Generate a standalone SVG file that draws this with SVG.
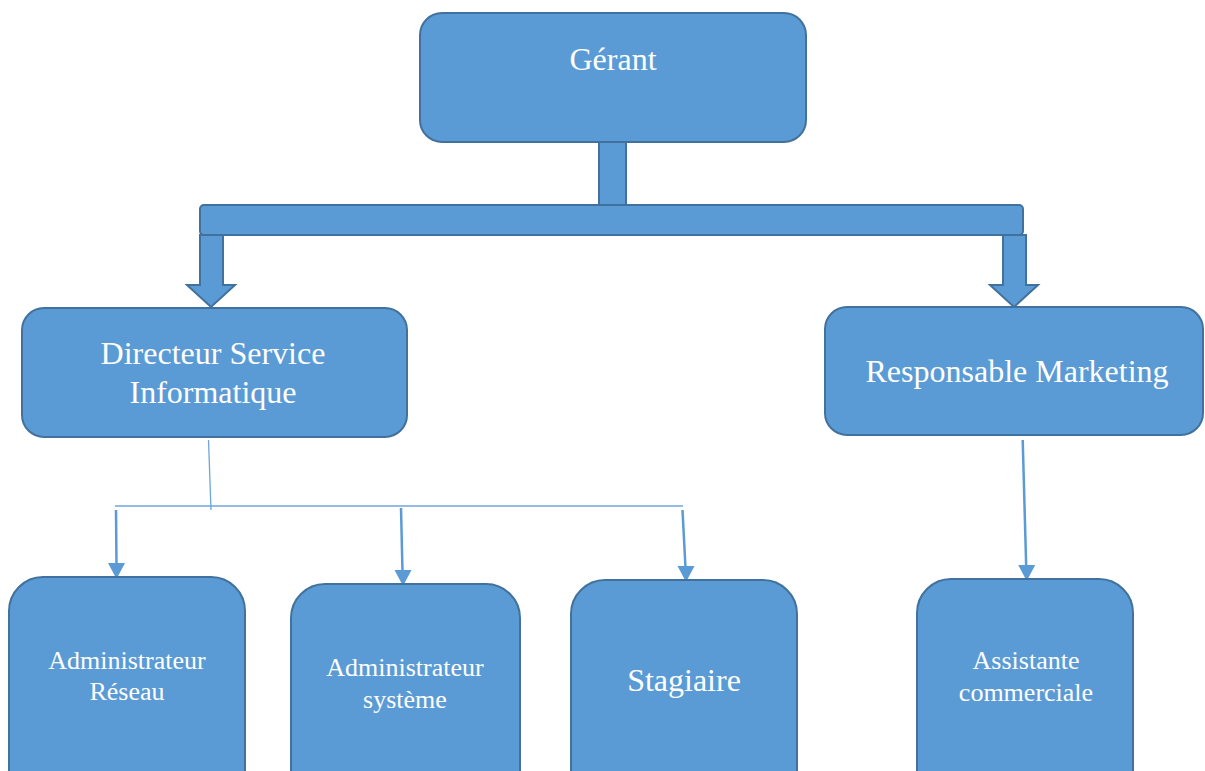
<svg xmlns="http://www.w3.org/2000/svg" width="1205" height="771" viewBox="0 0 1205 771">
  <style>
    .box { fill: #5b9bd5; stroke: #41719c; stroke-width: 2; }
    .block { fill: #5b9bd5; stroke: #41719c; stroke-width: 2; stroke-linejoin: miter; }
    .lbl { font-family: "Liberation Serif", "Times New Roman", serif; fill: #ffffff; text-anchor: middle; }
    .big { font-size: 32px; }
    .small { font-size: 26px; }
    .thin { stroke: #5b9bd5; stroke-width: 2.5; fill: none; }
    .hair { stroke: #6fa5dc; stroke-width: 1.3; fill: none; }
    .head { fill: #5b9bd5; }
  </style>
  <rect width="1205" height="771" fill="#ffffff"/>

  <!-- connectors -->
  <g id="connectors">
    <!-- block connector from the top box -->
    <rect class="block" x="599" y="141" width="27" height="64"/>
    <rect class="block" x="200" y="205" width="823" height="30" rx="4"/>
    <polygon class="block" points="200,235 223,235 223,285 235,285 211,307 187,285 200,285"/>
    <polygon class="block" points="1003,235 1026,235 1026,285 1038,285 1014,307 990,285 1003,285"/>
    <!-- thin branch lines -->
    <line class="hair" x1="208.5" y1="440" x2="211" y2="510"/>
    <line class="hair" x1="115" y1="506" x2="683" y2="506"/>
    <path d="M116,510 L116.5,566" class="thin"/>
    <path class="head" d="M108,563 L125,563 L116.5,579 Z"/>
    <path d="M401,508 L402.5,572" class="thin"/>
    <path class="head" d="M394.5,570 L411.5,570 L403,586 Z"/>
    <path d="M682.5,510 L685.5,568" class="thin"/>
    <path class="head" d="M677.5,566 L694.5,566 L686,582 Z"/>
    <path d="M1022.7,440 L1026.2,567" class="thin"/>
    <path class="head" d="M1018.2,565 L1035.2,565 L1026.7,581 Z"/>
  </g>

  <g id="node-gerant">
    <rect class="box" x="420" y="13" width="386" height="129" rx="22"/>
    <text class="lbl big" x="613" y="70">Gérant</text>
  </g>

  <g id="node-directeur">
    <rect class="box" x="22" y="308" width="385" height="129" rx="22"/>
    <text class="lbl big" x="213" y="364">Directeur Service</text>
    <text class="lbl big" x="213" y="403">Informatique</text>
  </g>

  <g id="node-marketing">
    <rect class="box" x="825" y="307" width="378" height="128" rx="22"/>
    <text class="lbl big" x="1017" y="382">Responsable Marketing</text>
  </g>

  <g id="node-admin-reseau">
    <rect class="box" x="9" y="577" width="236" height="230" rx="34"/>
    <text class="lbl small" x="127" y="669">Administrateur</text>
    <text class="lbl small" x="127" y="700">Réseau</text>
  </g>

  <g id="node-admin-systeme">
    <rect class="box" x="291" y="584" width="229" height="230" rx="34"/>
    <text class="lbl small" x="405" y="676">Administrateur</text>
    <text class="lbl small" x="405" y="708">système</text>
  </g>

  <g id="node-stagiaire">
    <rect class="box" x="571" y="580" width="226" height="230" rx="34"/>
    <text class="lbl big" x="684" y="691">Stagiaire</text>
  </g>

  <g id="node-assistante">
    <rect class="box" x="917" y="579" width="216" height="230" rx="34"/>
    <text class="lbl small" x="1026" y="669">Assistante</text>
    <text class="lbl small" x="1026" y="701">commerciale</text>
  </g>
</svg>
